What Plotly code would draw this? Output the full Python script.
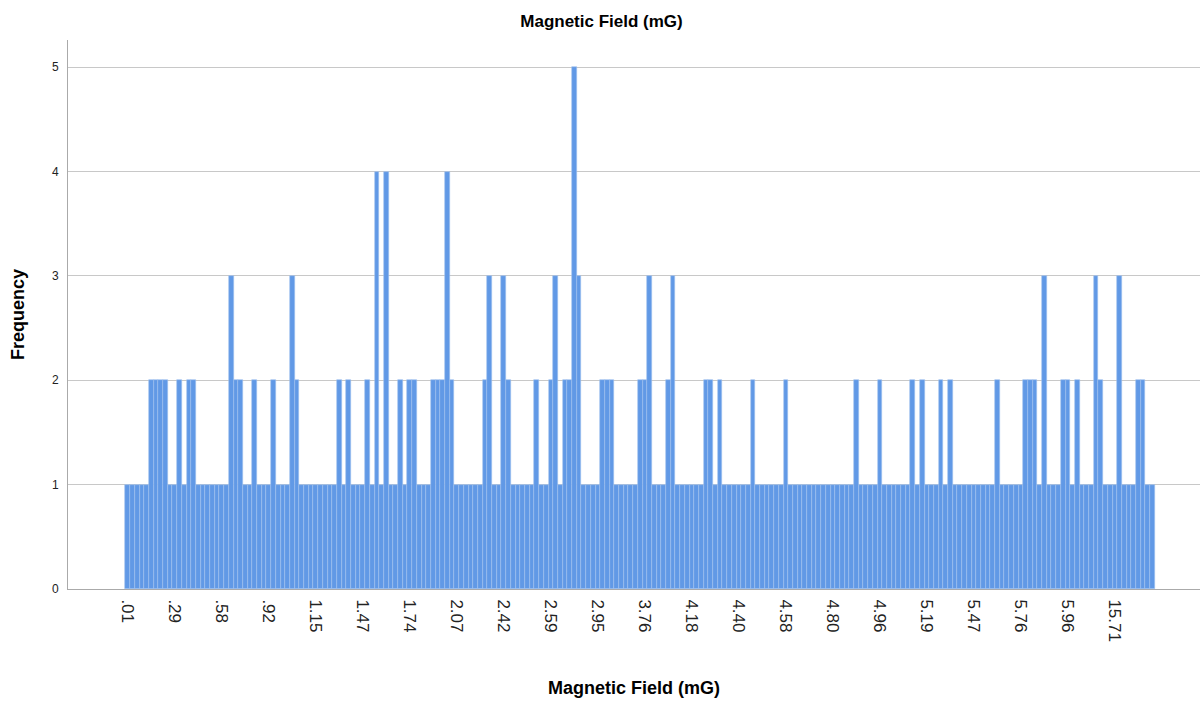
import plotly.graph_objects as go

# Frequency of each distinct Magnetic Field value (categories in ascending order)
frequency = [
    1, 1, 1, 1, 1, 2, 2, 2, 2, 1,
    1, 2, 1, 2, 2, 1, 1, 1, 1, 1,
    1, 1, 3, 2, 2, 1, 1, 2, 1, 1,
    1, 2, 1, 1, 1, 3, 2, 1, 1, 1,
    1, 1, 1, 1, 1, 2, 1, 2, 1, 1,
    1, 2, 1, 4, 1, 4, 1, 1, 2, 1,
    2, 2, 1, 1, 1, 2, 2, 2, 4, 2,
    1, 1, 1, 1, 1, 1, 2, 3, 1, 1,
    3, 2, 1, 1, 1, 1, 1, 2, 1, 1,
    2, 3, 1, 2, 2, 5, 3, 1, 1, 1,
    1, 2, 2, 2, 1, 1, 1, 1, 1, 2,
    2, 3, 1, 1, 1, 2, 3, 1, 1, 1,
    1, 1, 1, 2, 2, 1, 2, 1, 1, 1,
    1, 1, 1, 2, 1, 1, 1, 1, 1, 1,
    2, 1, 1, 1, 1, 1, 1, 1, 1, 1,
    1, 1, 1, 1, 1, 2, 1, 1, 1, 1,
    2, 1, 1, 1, 1, 1, 1, 2, 1, 2,
    1, 1, 1, 2, 1, 2, 1, 1, 1, 1,
    1, 1, 1, 1, 1, 2, 1, 1, 1, 1,
    1, 2, 2, 2, 1, 3, 1, 1, 1, 2,
    2, 1, 2, 1, 1, 1, 3, 2, 1, 1,
    1, 3, 1, 1, 1, 2, 2, 1, 1,
]

# Visible category labels (every 10th category is labelled)
tick_labels = [".01", ".29", ".58", ".92", "1.15", "1.47", "1.74", "2.07", "2.42",
               "2.59", "2.95", "3.76", "4.18", "4.40", "4.58", "4.80", "4.96",
               "5.19", "5.47", "5.76", "5.96", "15.71"]
label_step = 10

categories = list(range(len(frequency)))
tick_positions = categories[::label_step][:len(tick_labels)]

fig = go.Figure(go.Bar(
    x=categories,
    y=frequency,
    width=1.0,
    marker=dict(color="#6199e6", line=dict(color="#9fc1ef", width=0.6)),
    hoverinfo="x+y",
))

font_family = "Liberation Sans, Arial, sans-serif"

fig.update_layout(
    width=1203,
    height=703,
    margin=dict(l=68, r=3, t=40, b=114),
    paper_bgcolor="white",
    plot_bgcolor="white",
    bargap=0,
    showlegend=False,
    font=dict(family=font_family, color="#000000"),
    title=dict(text="<b>Magnetic Field (mG)</b>", x=0.5, xanchor="center",
               y=0.97, yanchor="middle", font=dict(size=17, family=font_family)),
)

fig.update_xaxes(
    range=[-12.72, 228.1],
    tickmode="array",
    tickvals=tick_positions,
    ticktext=tick_labels,
    tickangle=90,
    tickfont=dict(size=17, family=font_family, color="#222222"),
    ticks="outside", ticklen=6, tickcolor="rgba(0,0,0,0)",
    showgrid=False,
    showline=True, linecolor="#aaaaaa", linewidth=1,
    zeroline=False,
    title=dict(text="<b>Magnetic Field (mG)</b>", font=dict(size=18, family=font_family), standoff=40),
)

fig.update_yaxes(
    range=[0, 5.26],
    tickmode="array",
    tickvals=[0, 1, 2, 3, 4, 5],
    ticktext=["0", "1", "2", "3", "4", "5"],
    tickfont=dict(size=12, family=font_family, color="#222222"),
    ticks="outside", ticklen=6, tickcolor="rgba(0,0,0,0)",
    showgrid=True, gridcolor="#c8c8c8", gridwidth=1,
    showline=True, linecolor="#aaaaaa", linewidth=1,
    zeroline=False,
    title=dict(text="<b>Frequency</b>", font=dict(size=18, family=font_family), standoff=22),
)

fig.write_html("out.html")
